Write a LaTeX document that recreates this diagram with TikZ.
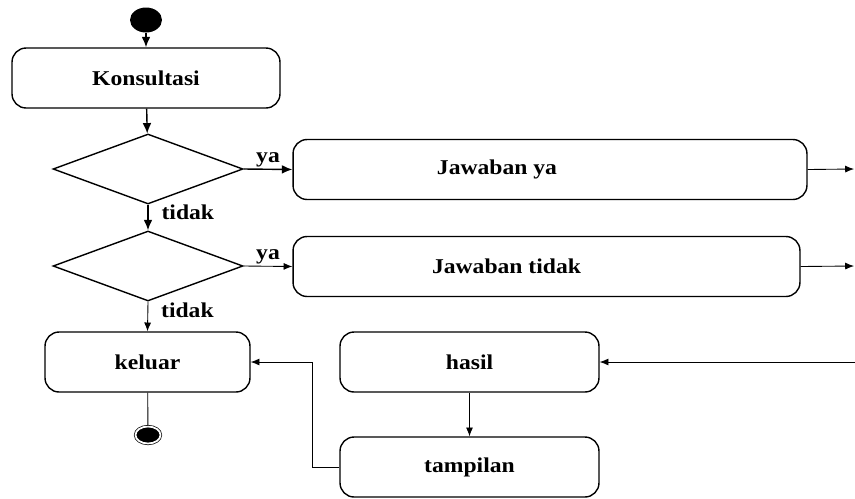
\documentclass[tikz,border=0pt]{standalone}
\usepackage{fontspec}
\setmainfont{Liberation Serif}[FakeStretch=1.12,BoldFont={Liberation Serif Bold}]
\usetikzlibrary{arrows.meta,shapes.geometric}

\begin{document}
\begin{tikzpicture}[x=0.02cm,y=-0.02cm,
				font=\fontsize{12}{14}\selectfont\bfseries,
				activity/.style={draw,line width=0.8pt,rounded corners=8pt,minimum height=1.2cm},
				decision/.style={draw,diamond,line width=0.8pt,inner sep=0pt,minimum width=3.8cm,minimum height=1.4cm},
				flow/.style={-{Latex[length=6pt,width=5pt]},line width=0.8pt},
				thinflow/.style={-{Latex[length=5pt,width=4pt]},line width=0.5pt}]
				\useasboundingbox (0,0) rectangle (855,498);
				% start and first activity
				\node[ellipse,fill=black,minimum width=0.64cm,minimum height=0.5cm] (start) at (146,20) {};
				\node[activity,minimum width=5.36cm] (konsultasi) at (146,78) {Konsultasi};
				% decisions
				\node[decision] (dec1) at (148,169) {};
				\node[decision] (dec2) at (148,266) {};
				% answers
				\node[activity,minimum width=10.28cm,label={[xshift=-1.06cm]center:Jawaban ya}] (jya) at (550,169.5) {};
				\node[activity,minimum width=10.14cm,label={[xshift=-0.8cm]center:Jawaban tidak}] (jtidak) at (546.5,266.5) {};
				% bottom
				\node[activity,minimum width=4.1cm] (keluar) at (147.5,362) {keluar};
				\node[activity,minimum width=5.18cm] (hasil) at (469.5,362) {hasil};
				\node[activity,minimum width=5.18cm] (tampilan) at (469.5,467) {tampilan};
				\node[ellipse,draw,fill=black,double,double distance=1pt,minimum width=0.5cm,minimum height=0.34cm] (finish) at (148,435) {};
				\coordinate (outya) at (854,169);
				\coordinate (outtidak) at (854,266);
				\coordinate (inhasil) at (855,362);
				% connectors
				\draw[flow] (start) -- (konsultasi);
				\draw[flow] (konsultasi) -- (dec1);
				\draw[flow] (dec1.east) -- node[above,inner sep=1pt] {ya} (jya.west);
				\draw[flow] (dec1.south) -- node[right,xshift=4pt,pos=0.3] {tidak} (dec2.north);
				\draw[thinflow] (dec2.east) -- node[above,inner sep=1pt] {ya} (jtidak.west);
				\draw[thinflow] (dec2.south) -- node[right,xshift=4pt,pos=0.3] {tidak} (keluar.north);
				\draw[thinflow] (jya.east) -- (outya);
				\draw[thinflow] (jtidak.east) -- (outtidak);
				\draw[thinflow] (inhasil) -- (hasil.east);
				\draw[thinflow] (hasil) -- (tampilan);
				\draw[thinflow] (tampilan.west) -- ++(-27,0) |- (keluar.east);
				\draw[line width=0.5pt] (keluar) -- (finish);
			\end{tikzpicture}
\end{document}
